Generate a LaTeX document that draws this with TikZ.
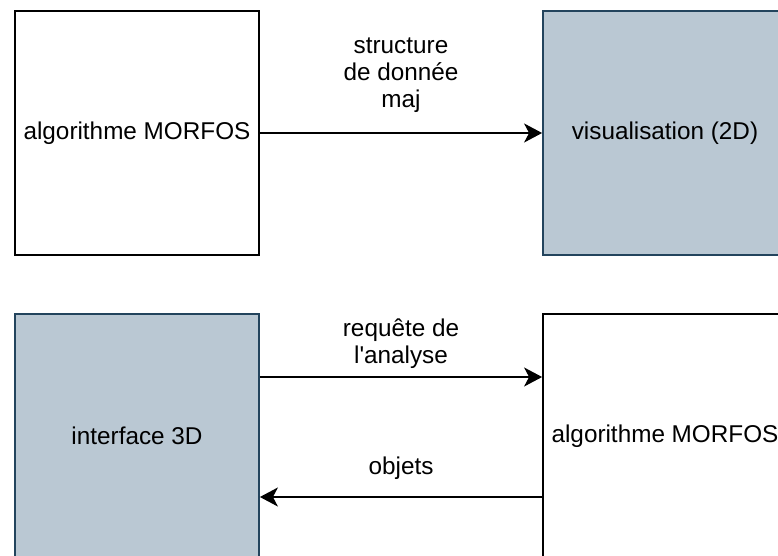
\documentclass[tikz,border=0pt]{standalone}
\usepackage{fontspec}
\setmainfont{Liberation Sans}
\usepackage{xcolor}
\definecolor{PaleSteel}{HTML}{BAC8D3}
\definecolor{DeepSteel}{HTML}{23445D}
\usetikzlibrary{arrows.meta,positioning}

\begin{document}
\begin{tikzpicture}[
  x=1pt,y=-1pt,
  box/.style={draw,line width=1.8pt,minimum width=244pt,minimum height=244pt,inner sep=0pt,font=\fontsize{24.3}{27}\selectfont},
  steelbox/.style={box,draw=DeepSteel,fill=PaleSteel},
  lbl/.style={align=center,font=\fontsize{24.3}{27}\selectfont,inner sep=0pt},
  arr/.style={-{Stealth[length=18pt,width=19pt,inset=5pt]},line width=1.8pt}
]
  \useasboundingbox (0,0) rectangle (778,556);
  \clip (0,0) rectangle (778,556);
  % top row
  \node[box] (algoA) at (137,133) {algorithme MORFOS};
  \node[steelbox] (visu) at (665,133) {visualisation (2D)};
  % bottom row
  \node[steelbox] (iface) at (137,436) {interface 3D};
  \node[box] (algoB) at (665,436) {algorithme MORFOS};
  \draw[arr] (algoA.east) -- node[lbl,midway,yshift=58pt] (majlbl) {structure\\de donnée\\maj} (visu.west);
  \draw[arr] ([yshift=59pt]iface.east) -- node[lbl,midway,yshift=33pt] (reqlbl) {requête de\\l\textquotesingle analyse} ([yshift=59pt]algoB.west);
  \draw[arr] ([yshift=-61pt]algoB.west) -- node[lbl,midway,yshift=29pt] (objlbl) {objets} ([yshift=-61pt]iface.east);
\end{tikzpicture}
\end{document}
